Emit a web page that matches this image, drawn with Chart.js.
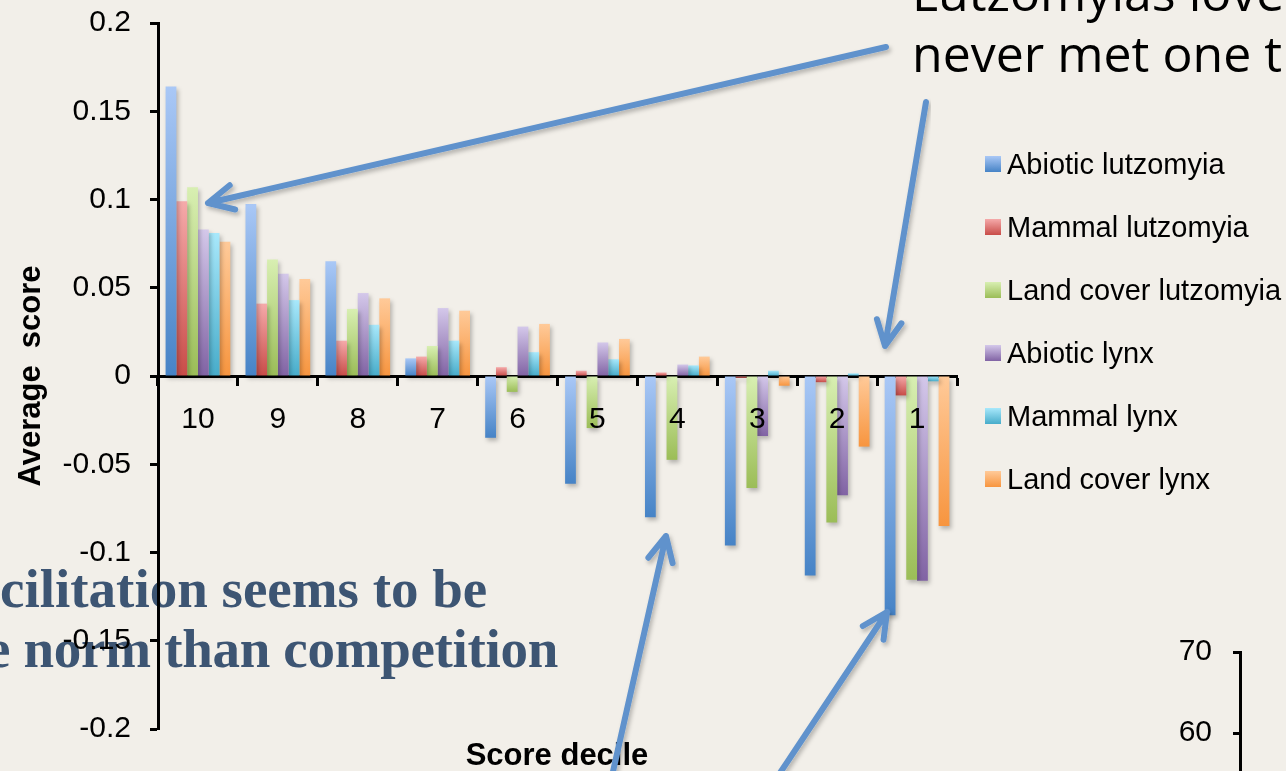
<!DOCTYPE html>
<html>
<head>
<meta charset="utf-8">
<title>Average score by score decile</title>
<script src="https://cdn.jsdelivr.net/npm/chart.js@4.4.1/dist/chart.umd.min.js"></script>
<style>
  html, body { margin: 0; padding: 0; }
  body {
    width: 1286px; height: 771px; overflow: hidden; position: relative;
    background: #f2efe9;
    font-family: "Liberation Sans", Arial, sans-serif;
  }
  #chart, #miniChart { position: absolute; }
  #chart { left: 0; top: 0; z-index: 2; }
  #miniChart { left: 1140px; top: 630px; z-index: 2; }
  .slideText { position: absolute; white-space: nowrap; z-index: 1; }
  #topNote {
    left: 912px; top: -38px;
    font-family: "Open Sans", sans-serif; font-size: 50px; line-height: 61px; color: #000;
  }
  #bottomNote {
    left: 0; top: 559px;
    font-family: "Liberation Serif", serif; font-weight: bold; font-size: 55px; line-height: 60px;
    color: #3d5573;
  }
  #bottomNote .l2 { margin-left: -14px; letter-spacing: -0.3px; }
  #xTitle {
    left: 457px; width: 200px; top: 739px; text-align: center;
    font-weight: bold; font-size: 31px; line-height: 31px; color: #000; z-index: 3;
  }
  #legend { position: absolute; left: 985px; top: 0; z-index: 3; }
  .legItem { position: absolute; left: 0; height: 29px; display: flex; align-items: center; white-space: nowrap; }
  .legBox { width: 16px; height: 16px; margin-right: 6px; }
  .legText { font-size: 29px; line-height: 29px; color: #000; }
  #arrows { position: absolute; left: 0; top: 0; z-index: 4; pointer-events: none; }
</style>
</head>
<body>
<div id="topNote" class="slideText">Lutzomyias love<br>never met one t</div>
<div id="bottomNote" class="slideText">cilitation seems to be<br><span class="l2">e norm than competition</span></div>

<canvas id="chart" width="1286" height="771"></canvas>
<canvas id="miniChart" width="146" height="285"></canvas>

<div id="xTitle" class="slideText">Score decile</div>
<div id="legend"></div>
<svg id="arrows" width="1286" height="771"></svg>

<script>
// Score deciles, left to right
const deciles = ['10', '9', '8', '7', '6', '5', '4', '3', '2', '1'];

const seriesNames = [
  'Abiotic lutzomyia',
  'Mammal lutzomyia',
  'Land cover lutzomyia',
  'Abiotic lynx',
  'Mammal lynx',
  'Land cover lynx'
];

// values
const abioticLutzomyia   = [0.164, 0.0975, 0.065, 0.010, -0.035, -0.061, -0.080, -0.096, -0.113, -0.1355];
const mammalLutzomyia    = [0.099, 0.041, 0.020, 0.011, 0.005, 0.003, 0.002, -0.001, -0.0035, -0.011];
const landCoverLutzomyia = [0.107, 0.066, 0.038, 0.017, -0.009, -0.0295, -0.0475, -0.0635, -0.083, -0.1155];
const abioticLynx        = [0.083, 0.058, 0.047, 0.0385, 0.028, 0.019, 0.0065, -0.034, -0.0675, -0.116];
const mammalLynx         = [0.081, 0.043, 0.029, 0.020, 0.0135, 0.0095, 0.006, 0.003, 0.0015, -0.003];
const landCoverLynx      = [0.076, 0.055, 0.044, 0.037, 0.0295, 0.021, 0.011, -0.0055, -0.040, -0.085];

const yTickValues = [-0.2, -0.15, -0.1, -0.05, 0, 0.05, 0.1, 0.15, 0.2];
const yTickLabels = ['-0.2', '-0.15', '-0.1', '-0.05', '0', '0.05', '0.1', '0.15', '0.2'];

// fragment of the next chart, bottom right
const miniTickValues = [40, 50, 60, 70];
const miniTickLabels = ['40', '50', '60', '70'];

// light (top) / dark (bottom) of each bar gradient
const lightColors = ['#aac8f6', '#f5aaaa', '#d8efb2', '#d4c8ea', '#a8e8fb', '#ffca99'];
const darkColors  = ['#4683c6', '#c84c48', '#9bbd57', '#8163a4', '#47acca', '#f7953f'];

const seriesValues = [abioticLutzomyia, mammalLutzomyia, landCoverLutzomyia, abioticLynx, mammalLynx, landCoverLynx];

Chart.defaults.font.family = '"Liberation Sans", Arial, sans-serif';
Chart.defaults.color = '#000';

function barFill(light, dark) {
  return (c) => {
    const chart = c.chart;
    const y = chart.scales && chart.scales.y;
    if (!y || !chart.chartArea || c.type !== 'data') return dark;
    const a = y.getPixelForValue(c.raw);
    const b = y.getPixelForValue(0);
    const top = Math.min(a, b), bottom = Math.max(a, b);
    if (bottom - top < 1) return dark;
    const g = chart.ctx.createLinearGradient(0, top, 0, bottom);
    g.addColorStop(0, light);
    g.addColorStop(1, dark);
    return g;
  };
}

// pin the axis box so the plot area sits exactly where the slide has it
function pinAxis(width) {
  return (s) => {
    s.width = width;
    s.paddingTop = 0;
    s.paddingBottom = 0;
  };
}

const barShadow = {
  id: 'barShadow',
  beforeDatasetsDraw(chart) {
    const ctx = chart.ctx;
    ctx.save();
    ctx.shadowColor = 'rgba(0,0,0,0.25)';
    ctx.shadowBlur = 4;
    ctx.shadowOffsetX = 2;
    ctx.shadowOffsetY = 3;
  },
  afterDatasetsDraw(chart) {
    chart.ctx.restore();
  }
};

const mainChart = new Chart(document.getElementById('chart'), {
  type: 'bar',
  data: {
    labels: deciles,
    datasets: seriesNames.map((name, i) => ({
      label: name,
      data: seriesValues[i],
      backgroundColor: barFill(lightColors[i], darkColors[i]),
      borderWidth: 0,
      categoryPercentage: 0.81,
      barPercentage: 1.0
    }))
  },
  options: {
    responsive: false,
    animation: false,
    layout: { padding: { left: 0, top: 23, right: 329, bottom: 42 } },
    plugins: {
      legend: { display: false },
      tooltip: { enabled: false }
    },
    scales: {
      x: {
        type: 'category',
        position: { y: 0 },
        afterFit: (s) => { s.height = 0; },
        grid: { display: true, drawOnChartArea: false, offset: true, tickLength: 8, tickWidth: 3, tickColor: '#000' },
        border: { display: true, color: '#000', width: 3 },
        // decile numbers sit on top of the bars
        ticks: { z: 1, font: { size: 30 }, color: '#000', padding: 18, maxRotation: 0 }
      },
      y: {
        min: -0.2,
        max: 0.2,
        afterBuildTicks: (s) => { s.ticks = yTickValues.map(v => ({ value: v })); },
        afterFit: pinAxis(158),
        grid: { display: true, drawOnChartArea: false, tickLength: 8, tickWidth: 3, tickColor: '#000' },
        border: { display: true, color: '#000', width: 3 },
        ticks: {
          font: { size: 30 }, color: '#000', padding: 19,
          callback: (v, i) => yTickLabels[i]
        },
        title: {
          display: true, text: 'Average  score', color: '#000',
          font: { size: 31, weight: 'bold' }, padding: { top: 13, bottom: 0 }
        }
      }
    }
  },
  plugins: [barShadow]
});

// only the upper end of the next chart's axis shows
const miniChart = new Chart(document.getElementById('miniChart'), {
  type: 'bar',
  data: { labels: [], datasets: [] },
  options: {
    responsive: false,
    animation: false,
    layout: { padding: { left: 0, top: 22, right: 0, bottom: 20 } },
    plugins: { legend: { display: false }, tooltip: { enabled: false } },
    scales: {
      x: { display: false },
      y: {
        min: 40,
        max: 70,
        afterBuildTicks: (s) => { s.ticks = miniTickValues.map(v => ({ value: v })); },
        afterFit: pinAxis(100),
        grid: { display: true, drawOnChartArea: false, tickLength: 7, tickWidth: 3, tickColor: '#000' },
        border: { display: true, color: '#000', width: 3 },
        ticks: { font: { size: 30 }, color: '#000', padding: 21, callback: (v, i) => miniTickLabels[i] }
      }
    }
  }
});

// html legend, same order as datasets
const legend = document.getElementById('legend');
seriesNames.forEach((name, i) => {
  const row = document.createElement('div');
  row.className = 'legItem';
  row.style.top = (164 + i * 63 - 14.5) + 'px';
  row.innerHTML = '<div class="legBox" style="background: linear-gradient(' + lightColors[i] + ',' + darkColors[i] + ')"></div>' +
    '<span class="legText">' + name + '</span>';
  legend.appendChild(row);
});

// slide call-out arrows
const svg = document.getElementById('arrows');
const arrowColor = '#6092cc';
const callouts = [
  [886, 47, 208, 203],
  [926, 102, 885, 346],
  [612, 776, 666, 536],
  [778, 776, 887, 612]
];
let svgBody = '<defs><filter id="sh" x="-10%" y="-10%" width="120%" height="120%">' +
  '<feDropShadow dx="2" dy="3" stdDeviation="2" flood-color="#000" flood-opacity="0.25"/></filter></defs>';
callouts.forEach(([x1, y1, x2, y2]) => {
  const ang = Math.atan2(y1 - y2, x1 - x2);
  const arm = 28, spread = 0.46;
  const ax = x2 + arm * Math.cos(ang - spread), ay = y2 + arm * Math.sin(ang - spread);
  const bx = x2 + arm * Math.cos(ang + spread), by = y2 + arm * Math.sin(ang + spread);
  svgBody += '<path filter="url(#sh)" fill="none" stroke="' + arrowColor + '" stroke-width="6" stroke-linecap="round" stroke-linejoin="round" ' +
    'd="M' + x1 + ' ' + y1 + ' L' + x2 + ' ' + y2 + ' M' + ax.toFixed(1) + ' ' + ay.toFixed(1) + ' L' + x2 + ' ' + y2 + ' L' + bx.toFixed(1) + ' ' + by.toFixed(1) + '"/>';
});
svg.innerHTML = svgBody;
</script>
</body>
</html>
